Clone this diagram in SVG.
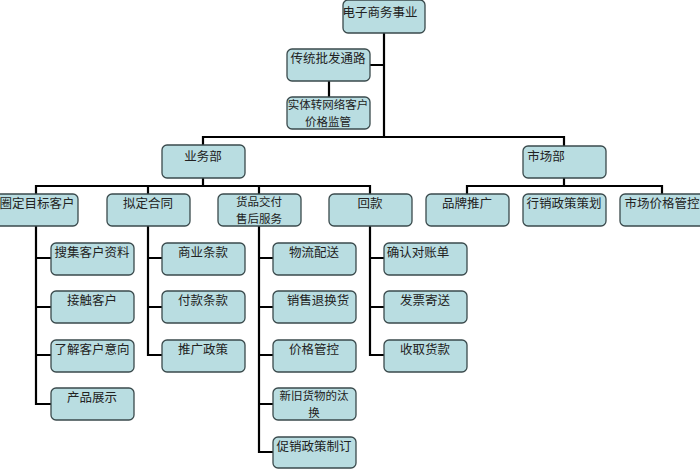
<svg xmlns="http://www.w3.org/2000/svg" width="700" height="470" viewBox="0 0 700 470">
<style>
.b{fill:#b9dde1;stroke:#3a4a4c;stroke-width:1.3}
text{font-family:"Noto Sans CJK SC",sans-serif;font-size:12.5px;fill:#222;text-anchor:middle}
text.s{font-size:11.5px}
.c{fill:none;stroke:#000;stroke-width:2.2}
</style>
<rect width="700" height="470" fill="#fff"/>
<g id="connectors" class="c">
<path d="M384 33V137M370 65H384M329 81V97M203 145V137H564V146"/>
<path d="M203 178V186M36 194V186H370V194M148 186V194M259 186V194"/>
<path d="M564 178V186M467 194V186H662V194"/>
<path d="M36 226V404H51M36 258H51M36 307H51M36 355H51"/>
<path d="M148 226V355H162M148 258H162M148 307H162"/>
<path d="M259 226V452H273M259 258H273M259 307H273M259 355H273M259 404H273"/>
<path d="M370 226V355H384M370 258H384M370 307H384"/>
</g>
<g id="n0"><rect class="b" x="343" y="0" width="82" height="33" rx="5"/><text x="380" y="17">电子商务事业</text></g>
<g id="n1"><rect class="b" x="287" y="49" width="83" height="32" rx="5"/><text x="328" y="63">传统批发通路</text></g>
<g id="n2"><rect class="b" x="287" y="97" width="83" height="32" rx="5"/><text class="s" x="328" y="109">实体转网络客户</text><text class="s" x="328" y="126">价格监管</text></g>
<g id="n3"><rect class="b" x="162" y="145" width="83" height="33" rx="5"/><text x="203" y="161">业务部</text></g>
<g id="n4"><rect class="b" x="523" y="146" width="83" height="32" rx="5"/><text x="546" y="161">市场部</text></g>
<g id="n5"><rect class="b" x="-5" y="194" width="83" height="32" rx="5"/><text x="37" y="208">圈定目标客户</text></g>
<g id="n6"><rect class="b" x="107" y="194" width="83" height="32" rx="5"/><text x="148" y="208">拟定合同</text></g>
<g id="n7"><rect class="b" x="218" y="194" width="83" height="32" rx="5"/><text class="s" x="259" y="206">货品交付</text><text class="s" x="259" y="223">售后服务</text></g>
<g id="n8"><rect class="b" x="329" y="194" width="83" height="32" rx="5"/><text x="370" y="208">回款</text></g>
<g id="n9"><rect class="b" x="426" y="194" width="83" height="32" rx="5"/><text x="467" y="208">品牌推广</text></g>
<g id="n10"><rect class="b" x="523" y="194" width="83" height="32" rx="5"/><text x="564" y="208">行销政策策划</text></g>
<g id="n11"><rect class="b" x="620" y="194" width="85" height="32" rx="5"/><text x="662" y="208">市场价格管控</text></g>
<g id="n12"><rect class="b" x="51" y="243" width="83" height="32" rx="5"/><text x="92" y="257">搜集客户资料</text></g>
<g id="n13"><rect class="b" x="51" y="291" width="83" height="32" rx="5"/><text x="92" y="305">接触客户</text></g>
<g id="n14"><rect class="b" x="51" y="340" width="83" height="32" rx="5"/><text x="92" y="354">了解客户意向</text></g>
<g id="n15"><rect class="b" x="51" y="388" width="83" height="32" rx="5"/><text x="92" y="402">产品展示</text></g>
<g id="n16"><rect class="b" x="162" y="243" width="83" height="32" rx="5"/><text x="203" y="257">商业条款</text></g>
<g id="n17"><rect class="b" x="162" y="291" width="83" height="32" rx="5"/><text x="203" y="305">付款条款</text></g>
<g id="n18"><rect class="b" x="162" y="340" width="83" height="32" rx="5"/><text x="203" y="354">推广政策</text></g>
<g id="n19"><rect class="b" x="273" y="243" width="83" height="32" rx="5"/><text x="314" y="257">物流配送</text></g>
<g id="n20"><rect class="b" x="273" y="291" width="83" height="32" rx="5"/><text x="318" y="305">销售退换货</text></g>
<g id="n21"><rect class="b" x="273" y="340" width="83" height="32" rx="5"/><text x="314" y="354">价格管控</text></g>
<g id="n22"><rect class="b" x="273" y="388" width="83" height="32" rx="5"/><text class="s" x="314" y="400">新旧货物的汰</text><text class="s" x="314" y="417">换</text></g>
<g id="n23"><rect class="b" x="273" y="437" width="83" height="31" rx="5"/><text x="314" y="451">促销政策制订</text></g>
<g id="n24"><rect class="b" x="384" y="243" width="83" height="32" rx="5"/><text x="418" y="257">确认对账单</text></g>
<g id="n25"><rect class="b" x="384" y="291" width="83" height="32" rx="5"/><text x="425" y="305">发票寄送</text></g>
<g id="n26"><rect class="b" x="384" y="340" width="83" height="32" rx="5"/><text x="425" y="354">收取货款</text></g>
</svg>
